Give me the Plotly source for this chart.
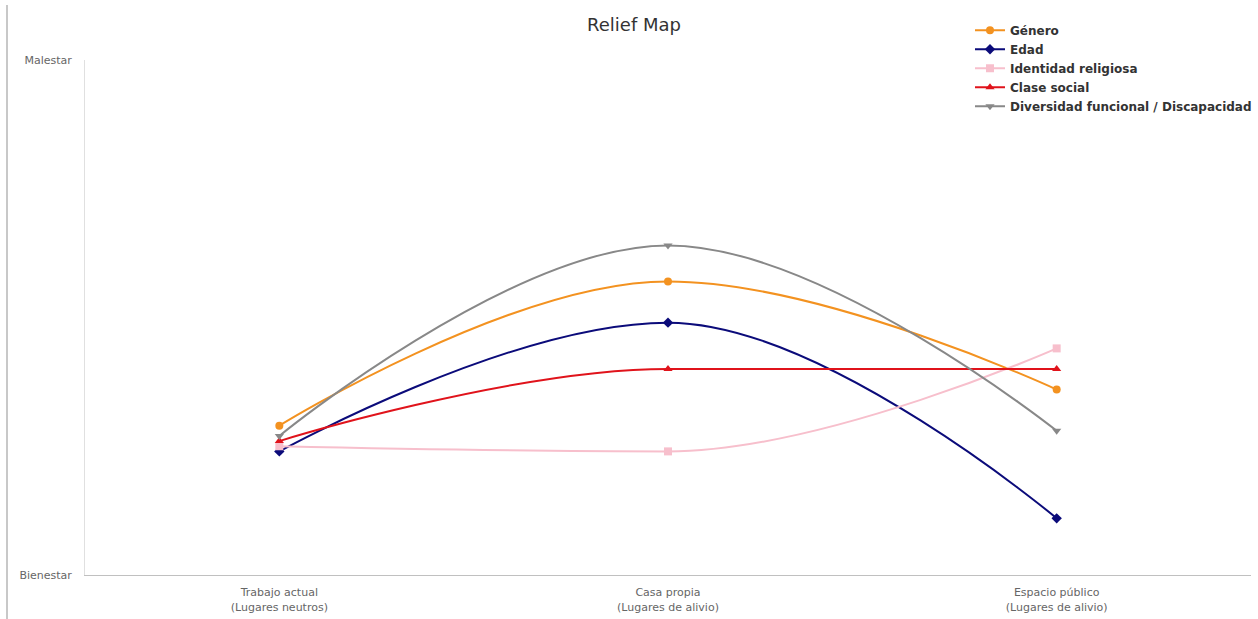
import plotly.graph_objects as go

# Places visited and the perceived discomfort level for each identity axis
lugares = [
    "Trabajo actual<br>(Lugares neutros)",
    "Casa propia<br>(Lugares de alivio)",
    "Espacio público<br>(Lugares de alivio)",
]
genero = [2.9, 5.7, 3.6]
edad = [2.4, 4.9, 1.1]
identidad_religiosa = [2.5, 2.4, 4.4]
clase_social = [2.6, 4.0, 4.0]
diversidad_funcional = [2.7, 6.4, 2.8]

y_min, y_max = 0, 10
y_tick_labels = ["Bienestar", "Malestar"]

series = [
    ("Género", genero, "#f39220", "circle"),
    ("Edad", edad, "#0b0b7a", "diamond"),
    ("Identidad religiosa", identidad_religiosa, "#f7bfcc", "square"),
    ("Clase social", clase_social, "#e0131b", "triangle-up"),
    ("Diversidad funcional / Discapacidad", diversidad_funcional, "#888888", "triangle-down"),
]

x_pos = list(range(len(lugares)))


def spline_path(xs, ys, smoothing=1.5):
    """Cubic Bezier path through the points, with control points that
    never overshoot the neighbouring values (monotone at extremes)."""
    n = len(xs)
    left = [None] * n
    right = [None] * n
    denom = smoothing + 1
    for i in range(1, n - 1):
        x, y = xs[i], ys[i]
        px, py = xs[i - 1], ys[i - 1]
        nx, ny = xs[i + 1], ys[i + 1]
        lcx = (smoothing * x + px) / denom
        lcy = (smoothing * y + py) / denom
        rcx = (smoothing * x + nx) / denom
        rcy = (smoothing * y + ny) / denom
        corr = (rcy - lcy) * (rcx - x) / (rcx - lcx) + y - rcy
        lcy += corr
        rcy += corr
        if lcy > py and lcy > y:
            lcy = max(py, y)
            rcy = 2 * y - lcy
        elif lcy < py and lcy < y:
            lcy = min(py, y)
            rcy = 2 * y - lcy
        if rcy > ny and rcy > y:
            rcy = max(ny, y)
            lcy = 2 * y - rcy
        elif rcy < ny and rcy < y:
            rcy = min(ny, y)
            lcy = 2 * y - rcy
        left[i] = (lcx, lcy)
        right[i] = (rcx, rcy)
    path = f"M {xs[0]},{ys[0]}"
    for i in range(1, n):
        c1 = right[i - 1] or (xs[i - 1], ys[i - 1])
        c2 = left[i] or (xs[i], ys[i])
        path += f" C {c1[0]},{c1[1]} {c2[0]},{c2[1]} {xs[i]},{ys[i]}"
    return path


fig = go.Figure()
for name, values, color, symbol in series:
    # smooth line through the values
    fig.add_shape(type="path", xref="x", yref="y", layer="below",
                  path=spline_path(x_pos, values),
                  line=dict(color=color, width=2))
    # point markers
    fig.add_trace(go.Scatter(
        x=x_pos, y=values, mode="markers", showlegend=False,
        marker=dict(color=color, symbol=symbol, size=8),
        hovertemplate=name + ": %{y}<extra></extra>",
    ))
    # legend entry
    fig.add_trace(go.Scatter(
        x=[None], y=[None], mode="lines+markers", name="<b>" + name + "</b>",
        line=dict(color=color, width=2),
        marker=dict(color=color, symbol=symbol, size=8),
    ))

fig.update_layout(
    width=1258, height=619,
    paper_bgcolor="white", plot_bgcolor="white",
    margin=dict(l=85, r=7, t=60, b=44, autoexpand=False),
    font=dict(family="DejaVu Sans", size=11, color="#666666"),
    title=dict(text="Relief Map", x=0.504, xanchor="center", y=0.96, yanchor="middle",
               font=dict(size=18, color="#333333")),
    showlegend=True,
    legend=dict(x=0.759, xanchor="left", y=1.086, yanchor="top",
                bgcolor="rgba(0,0,0,0)", tracegroupgap=0, itemwidth=30,
                font=dict(size=12, color="#333333", family="DejaVu Sans"),
                traceorder="normal"),
    xaxis=dict(range=[-0.5, 2.5], showgrid=False,
               tickvals=x_pos, ticktext=lugares,
               showline=True, linecolor="#c0c0c0", linewidth=1,
               ticks="", ticklabelstandoff=7,
               tickfont=dict(size=11, color="#666666"), zeroline=False),
    yaxis=dict(range=[y_min, y_max], showgrid=False, zeroline=False,
               showline=True, linecolor="#e0e0e0", linewidth=1,
               tickvals=[y_min, y_max], ticktext=y_tick_labels, ticks="",
               ticklabelstandoff=10, tickfont=dict(size=11, color="#666666")),
)

# Thin border line at the left edge of the page
fig.add_shape(type="line", xref="paper", yref="paper",
              x0=-0.0669, x1=-0.0669, y0=-0.09, y1=1.107,
              line=dict(color="#c8c8c8", width=2))

fig.write_html("out.html")
